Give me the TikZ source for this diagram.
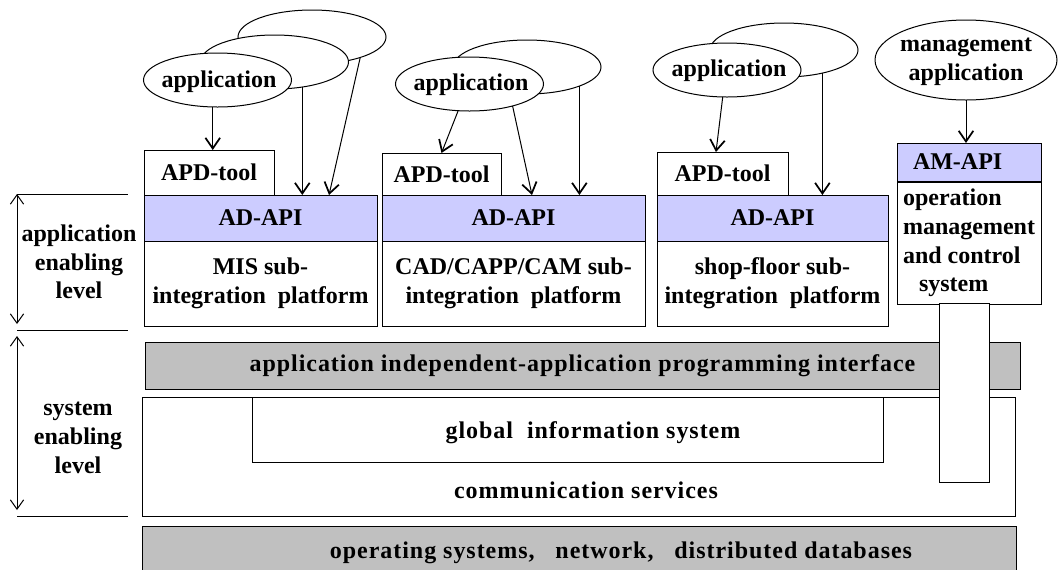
\documentclass[tikz,border=0pt]{standalone}
\usepackage{fontspec}
\setmainfont{Liberation Serif}
\newfontfamily\widefont[LetterSpace=4]{Liberation Serif}
\usetikzlibrary{shapes.geometric, arrows.meta}
\tikzset{every picture/.style={line width=0.75pt}}
\definecolor{apiblue}{RGB}{204,204,255}
\definecolor{layergray}{RGB}{192,192,192}

\begin{document}
\begin{tikzpicture}[x=0.75pt,y=0.75pt,yscale=-1,xscale=1,
  font=\bfseries\fontsize{18pt}{21.5pt}\selectfont,
  app/.style={draw, ellipse, fill=white, minimum width=111pt, minimum height=40.5pt, inner sep=0pt, outer sep=0pt},
  blk/.style={draw, fill=white, inner sep=0pt, outer sep=0pt, align=center},
  api/.style={blk, fill=apiblue},
  layer/.style={blk, fill=layergray},
  wide/.style={font=\widefont\bfseries\fontsize{18pt}{21.5pt}\selectfont},
  arr/.style={-{Straight Barb[length=8pt,width=11pt,line width=1.3pt]}},
  lvl/.style={{Straight Barb[length=7pt,width=10pt]}-{Straight Barb[length=7pt,width=10pt]}},
  txt/.style={inner sep=0.75pt, align=center}]
\useasboundingbox (0,0) rectangle (1058,569);

%Shape: Ellipse
\node[app] (e1c) at (312,37) {};
\node[app] (e1b) at (274.5,62) {};
\node[app] (e1a) at (217.5,80) {};
%Shape: Ellipse
\node[app] (e2b) at (527,67) {};
\node[app] (e2a) at (469.5,84) {};
%Shape: Ellipse
\node[app] (e3b) at (784,50) {};
\node[app] (e3a) at (727,70) {};
%Shape: Ellipse
\node[app, minimum width=136.5pt, minimum height=60pt] (mapp) at (966,60) {};

%Shape: Rectangle
\node[blk, minimum width=97.5pt, minimum height=33.75pt] (apd1) at (209,172.5) {APD-tool};
\node[api, minimum width=174.75pt, minimum height=34.5pt] (adapi1) at (260.5,218) {AD-API};
\node[blk, minimum width=174.75pt, minimum height=63.75pt] (mis) at (260.5,283.5) {MIS sub-\\integration~ platform};
%Shape: Rectangle
\node[blk, minimum width=89.25pt, minimum height=31.5pt] (apd2) at (441.5,174) {APD-tool};
\node[api, minimum width=197.25pt, minimum height=34.5pt] (adapi2) at (513.5,218) {AD-API};
\node[blk, minimum width=197.25pt, minimum height=63.75pt] (cad) at (513.5,283.5) {CAD/CAPP/CAM sub-\\integration~ platform};
%Shape: Rectangle
\node[blk, minimum width=98.25pt, minimum height=32.25pt] (apd3) at (722.5,173.5) {APD-tool};
\node[api, minimum width=173.25pt, minimum height=34.5pt] (adapi3) at (772.5,218) {AD-API};
\node[blk, minimum width=173.25pt, minimum height=63.75pt] (shop) at (772.5,283.5) {shop-floor sub-\\integration~ platform};
%Shape: Rectangle
\node[api, minimum width=108pt, minimum height=28.5pt, text width=84pt, inner xsep=12pt, align=left] (amapi) at (969,162) {AM-API};
\node[blk, minimum width=108pt, minimum height=91.5pt, align=left] (oms) at (969,243) {operation\\management\\and control\\\hspace*{12pt}system};

%Shape: Rectangle
\node[layer, wide, minimum width=656.25pt, minimum height=35.25pt] (aiapi) at (582.5,365.5) {application independent-application programming interface};
\node[blk, minimum width=654.75pt, minimum height=89.25pt] (comm) at (578.5,456.5) {};
\node[blk, minimum width=473.25pt, minimum height=48.75pt] (gis) at (567.5,429.5) {};
\node[blk, minimum width=37.5pt, minimum height=134.25pt] (omsbar) at (964,392.5) {};
\node[layer, minimum width=655.5pt, minimum height=36pt] (os) at (579,550) {};

%Straight Lines
\draw[arr] (e1a.-100) -- (e1a.-100 |- apd1.north);
\draw[arr] (e1b.-42) -- (e1b.-42 |- adapi1.north);
\draw[arr] (e1c.-23) -- ([shift={(185,0)}]adapi1.north west);
\draw[arr] (e2a.-113) -- (apd2.north);
\draw[arr] (e2a.-27) -- ([shift={(150,0)}]adapi2.north west);
\draw[arr] (e2b.-20) -- (e2b.-20 |- adapi2.north);
\draw[arr] (e3a.-99) -- ([shift={(59,0)}]apd3.north west);
\draw[arr] (e3b.-31) -- (e3b.-31 |- adapi3.north);
\draw[arr] (mapp.south) -- (mapp.south |- amapi.north);

%Straight Lines
\coordinate (lvA) at (17,194);
\coordinate (lvB) at (17,330);
\coordinate (lvC) at (17,516);
\draw (lvA) -- ++(111,0);
\draw (lvB) -- ++(111,0);
\draw (lvC) -- ++(111,0);
\draw[lvl, shorten >=4.5pt] (lvA) -- (lvB);
\draw[lvl, shorten <=4.5pt, shorten >=4.5pt] (lvB) -- (lvC);

% Text Node
\node[txt] (e1atxt) at (219,82) {application};
\node[txt] (e2atxt) at (471,85) {application};
\node[txt] (e3atxt) at (729,71) {application};
\node[txt] (mapptxt) at (966,62) {management\\application};
% Text Node
\node[txt] (applvl) at (79,262) {application\\enabling\\level};
% Text Node
\node[txt] (syslvl) at (78,438) {system\\enabling\\level};
% Text Node
\node[txt, wide] (gistxt) at (593,433) {global~ information system};
% Text Node
\node[txt, wide] (commtxt) at (586,490) {communication services};
% Text Node
\node[txt, wide] (ostxt) at (621,553) {operating systems,~~~network,~~~distributed databases};

\end{tikzpicture}
\end{document}
